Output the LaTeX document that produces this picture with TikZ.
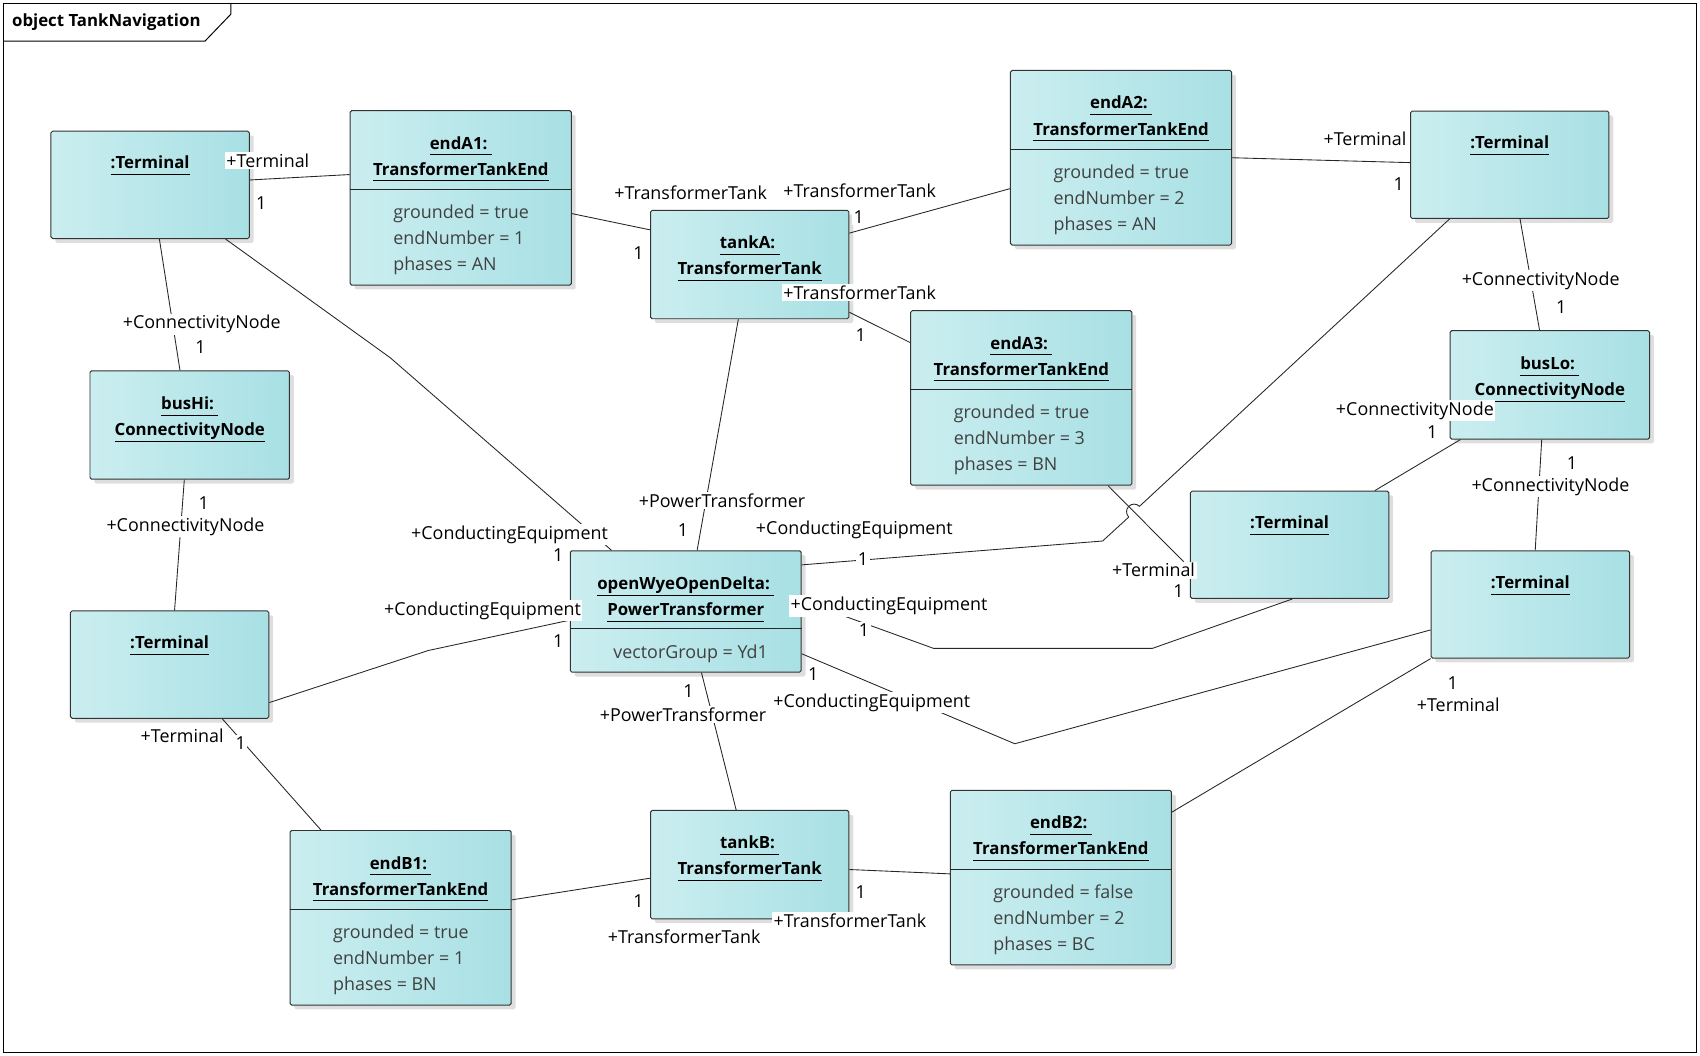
\documentclass[tikz,border=0pt]{standalone}
\usepackage{fontspec}
\setmainfont{Open Sans}
\usepackage{tikz}
\usetikzlibrary{positioning, shadows}
\definecolor{objleft}{RGB}{203,238,240}
\definecolor{objright}{RGB}{168,224,228}
\definecolor{attrgray}{RGB}{64,64,64}
\newcommand{\objul}[1]{\underline{#1\vphantom{g}}}

\begin{document}
\begin{tikzpicture}[
    x=1pt, y=-1pt, % picture laid out in pixel units, y downwards
    obj/.style={rectangle, rounded corners=1.5pt, draw=black!80, line width=0.9pt,
                left color=objleft, right color=objright, inner sep=0pt,
                drop shadow={shadow xshift=4pt, shadow yshift=-4pt, fill=black, opacity=0.13}},
    termbox/.style={obj, minimum width=183pt, minimum height=99pt},
    endbox/.style={obj, minimum width=204pt, minimum height=161pt},
    tankbox/.style={obj, minimum width=183pt, minimum height=100pt},
    busbox/.style={obj, minimum width=184pt, minimum height=100pt},
    ptbox/.style={obj, minimum width=213pt, minimum height=112pt},
    objname/.style={anchor=north, inner sep=0pt, align=center,
                    font=\fontsize{15.5}{24}\selectfont\bfseries},
    objattr/.style={anchor=north west, inner sep=0pt, align=left, text=attrgray,
                    font=\fontsize{16.5}{24}\selectfont},
    role/.style={fill=white, inner sep=1.5pt, font=\fontsize{16.5}{20}\selectfont},
    link/.style={draw=black!85, line width=0.8pt}
]
\useasboundingbox (0,0) rectangle (1568,974);

% diagram frame
\draw[line width=0.9pt] (3,3) rectangle (1565,971);
\draw[line width=0.9pt] (3,38) -- (189,38) -- (213,13) -- (213,3);
\node[anchor=west, inner sep=0pt, font=\fontsize{15.5}{18}\selectfont\bfseries] (title) at (11,20) {object TankNavigation};

% objects
\node[termbox] (termTL) at (138.5,170.5) {};
\node[objname] (termTLname) at ([yshift=-23pt]termTL.north) {\objul{:Terminal}};

\node[endbox] (endA1) at (425,182.5) {};
\node[objname] (endA1name) at ([yshift=-24pt]endA1.north) {\objul{endA1:\ }\\\objul{TransformerTankEnd}};
\draw[link] ([yshift=-73pt]endA1.north west) -- ([yshift=-73pt]endA1.north east);
\node[objattr] (endA1attr) at ([xshift=40pt, yshift=-87pt]endA1.north west) {grounded = true\\endNumber = 1\\phases = AN};

\node[tankbox] (tankA) at (691.5,244) {};
\node[objname] (tankAname) at ([yshift=-24pt]tankA.north) {\objul{tankA:\ }\\\objul{TransformerTank}};

\node[endbox] (endA2) at (1034,145.5) {};
\node[objname] (endA2name) at ([yshift=-24pt]endA2.north) {\objul{endA2:\ }\\\objul{TransformerTankEnd}};
\draw[link] ([yshift=-73pt]endA2.north west) -- ([yshift=-73pt]endA2.north east);
\node[objattr] (endA2attr) at ([xshift=40pt, yshift=-87pt]endA2.north west) {grounded = true\\endNumber = 2\\phases = AN};

\node[termbox] (termTR) at (1392.5,152) {};
\node[objname] (termTRname) at ([yshift=-23pt]termTR.north) {\objul{:Terminal}};

\node[endbox] (endA3) at (942,367) {};
\node[objname] (endA3name) at ([yshift=-24pt]endA3.north) {\objul{endA3:\ }\\\objul{TransformerTankEnd}};
\draw[link] ([yshift=-73pt]endA3.north west) -- ([yshift=-73pt]endA3.north east);
\node[objattr] (endA3attr) at ([xshift=40pt, yshift=-87pt]endA3.north west) {grounded = true\\endNumber = 3\\phases = BN};

\node[busbox] (busLo) at (1429.5,355) {};
\node[objname] (busLoname) at ([yshift=-24pt]busLo.north) {\objul{busLo:\ }\\\objul{ConnectivityNode}};

\node[busbox] (busHi) at (175,392) {};
\node[objname] (busHiname) at ([yshift=-24pt]busHi.north) {\objul{busHi:\ }\\\objul{ConnectivityNode}};

\node[termbox] (termM) at (1189.5,502.5) {};
\node[objname] (termMname) at ([yshift=-23pt]termM.north) {\objul{:Terminal}};

\node[termbox] (termR) at (1411.5,557.5) {};
\node[objname] (termRname) at ([yshift=-23pt]termR.north) {\objul{:Terminal}};

\node[ptbox] (pt) at (632.5,564) {};
\node[objname] (ptname) at ([yshift=-24pt]pt.north) {\objul{openWyeOpenDelta:\ }\\\objul{PowerTransformer}};
\draw[link] ([yshift=-72pt]pt.north west) -- ([yshift=-72pt]pt.north east);
\node[objattr] (ptattr) at ([xshift=40pt, yshift=-87pt]pt.north west) {vectorGroup = Yd1};

\node[termbox] (termL) at (156.5,613) {};
\node[objname] (termLname) at ([yshift=-23pt]termL.north) {\objul{:Terminal}};

\node[endbox] (endB1) at (369.5,846.5) {};
\node[objname] (endB1name) at ([yshift=-24pt]endB1.north) {\objul{endB1:\ }\\\objul{TransformerTankEnd}};
\draw[link] ([yshift=-73pt]endB1.north west) -- ([yshift=-73pt]endB1.north east);
\node[objattr] (endB1attr) at ([xshift=40pt, yshift=-87pt]endB1.north west) {grounded = true\\endNumber = 1\\phases = BN};

\node[tankbox] (tankB) at (691.5,797.5) {};
\node[objname] (tankBname) at ([yshift=-24pt]tankB.north) {\objul{tankB:\ }\\\objul{TransformerTank}};

\node[endbox] (endB2) at (978.5,809.5) {};
\node[objname] (endB2name) at ([yshift=-24pt]endB2.north) {\objul{endB2:\ }\\\objul{TransformerTankEnd}};
\draw[link] ([yshift=-73pt]endB2.north west) -- ([yshift=-73pt]endB2.north east);
\node[objattr] (endB2attr) at ([xshift=40pt, yshift=-87pt]endB2.north west) {grounded = false\\endNumber = 2\\phases = BC};

% links
\draw[link] ([yshift=4.5pt]termTL.east) -- ([yshift=21.5pt]endA1.west);
\draw[link] ([yshift=-14.5pt]endA1.east) -- ([yshift=32pt]tankA.west);
\draw[link] ([yshift=29pt]tankA.east) -- ([yshift=-28.5pt]endA2.west);
\draw[link] (endA2.east) -- ([yshift=2pt]termTR.west);
\draw[link] ([xshift=9.5pt]termTR.south) -- ([xshift=-9.5pt]busLo.north);
\draw[link] ([xshift=8.5pt]termTL.south) -- ([xshift=-9pt]busHi.north);
\draw[link] ([xshift=-5pt]busHi.south) -- ([xshift=4.5pt]termL.north);
\draw[link] ([yshift=-44pt]tankA.east) -- ([yshift=51pt]endA3.west);
\draw[link] ([xshift=69.5pt]termTL.south) -- (360,330) -- ([xshift=-68.5pt]pt.north);
\draw[link] ([xshift=-10.5pt]tankA.south) -- ([xshift=10.5pt]pt.north);
\draw[link] ([xshift=-55.5pt]termTR.south) -- (1051,467)
    arc[start angle=45, end angle=225, radius=7pt] -- (1017,499) -- ([yshift=43pt]pt.east);
\draw[link] ([xshift=80pt]endA3.south) -- ([yshift=-21.5pt]termM.west);
\draw[link] ([xshift=-82.5pt]busLo.south) -- ([xshift=78.5pt]termM.north);
\draw[link] ([xshift=-7.5pt]busLo.south) -- ([xshift=4.5pt]termR.north);
\draw[link] ([yshift=10pt]pt.east) -- (861,598) -- (1063,598) -- ([xshift=2.5pt]termM.south);
\draw[link] ([yshift=-39pt]pt.east) -- (936,686) -- ([yshift=-23.5pt]termR.west);
\draw[link] (termR.south west) -- ([yshift=60.5pt]endB2.east);
\draw[link] ([xshift=14.5pt]pt.south) -- ([xshift=-12.5pt]tankB.north);
\draw[link] ([yshift=-35pt]termL.east) -- (395,600) -- ([yshift=-8pt]pt.west);
\draw[link] ([xshift=48.5pt]termL.south) -- ([xshift=-73.5pt]endB1.north);
\draw[link] ([yshift=16.5pt]endB1.east) -- ([yshift=-12.5pt]tankB.west);
\draw[link] ([yshift=-4.5pt]tankB.east) -- ([yshift=3.5pt]endB2.west);

% role names and multiplicities
\node[role] (rTermA1) at (247,148) {+Terminal};
\node[role] (mTermA1) at (241,187) {1};
\node[role] (rTankA1) at (637,178) {+TransformerTank};
\node[role] (mTankA1) at (589,233) {1};
\node[role] (rTankA2) at (793,176) {+TransformerTank};
\node[role] (mTankA2) at (792,200) {1};
\node[role] (rTermA2) at (1259,128) {+Terminal};
\node[role] (mTermA2) at (1290,170) {1};
\node[role] (rLoTR) at (1421,259) {+ConnectivityNode};
\node[role] (mLoTR) at (1440,283) {1};
\node[role] (rHiTL) at (186,299) {+ConnectivityNode};
\node[role] (mHiTL) at (185,320) {1};
\node[role] (mHiL) at (188,464) {1};
\node[role] (rHiL) at (171,486) {+ConnectivityNode};
\node[role] (rTankA3) at (793,270) {+TransformerTank};
\node[role] (mTankA3) at (794,309) {1};
\node[role] (rCeTL) at (470,493) {+ConductingEquipment};
\node[role] (mCeTL) at (515,512) {1};
\node[role] (rPtA) at (666,462) {+PowerTransformer};
\node[role] (mPtA) at (630,489) {1};
\node[role] (rCeTR) at (788,489) {+ConductingEquipment};
\node[role] (mCeTR) at (796,516) {1};
\node[role] (rTermA3) at (1064,526) {+Terminal};
\node[role] (mTermA3) at (1087,545) {1};
\node[role] (rLoM) at (1305,379) {+ConnectivityNode};
\node[role] (mLoM) at (1321,399) {1};
\node[role] (mLoR) at (1450,427) {1};
\node[role] (rLoR) at (1430,449) {+ConnectivityNode};
\node[role] (rCeM) at (820,559) {+ConductingEquipment};
\node[role] (mCeM) at (797,581) {1};
\node[role] (rCeR) at (804,648) {+ConductingEquipment};
\node[role] (mCeR) at (750,622) {1};
\node[role] (mTermB2) at (1340,630) {1};
\node[role] (rTermB2) at (1345,650) {+Terminal};
\node[role] (mPtB) at (635,637) {1};
\node[role] (rPtB) at (630,659) {+PowerTransformer};
\node[role] (rCeL) at (445,563) {+ConductingEquipment};
\node[role] (mCeL) at (515,591) {1};
\node[role] (rTermB1) at (168,679) {+Terminal};
\node[role] (mTermB1) at (222,685) {1};
\node[role] (mTankB1) at (589,831) {1};
\node[role] (rTankB1) at (631,864) {+TransformerTank};
\node[role] (mTankB2) at (794,823) {1};
\node[role] (rTankB2) at (784,849) {+TransformerTank};
\end{tikzpicture}
\end{document}
